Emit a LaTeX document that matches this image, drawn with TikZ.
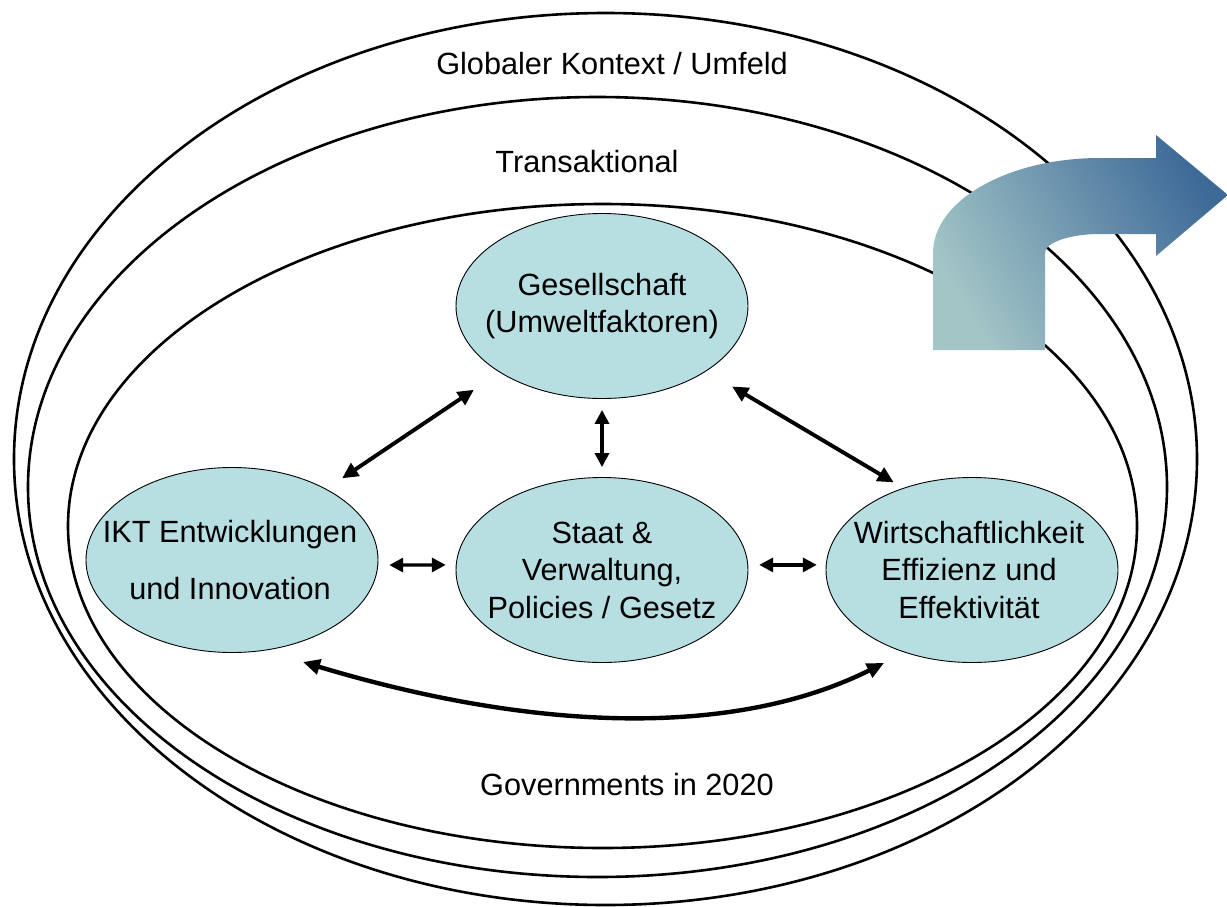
\documentclass[tikz,border=0pt]{standalone}
\usepackage{fontspec}
\setmainfont{Liberation Sans}
\usetikzlibrary{arrows.meta,shapes.geometric}
\definecolor{nodefill}{RGB}{183,223,226}
\definecolor{arrowA}{RGB}{163,197,198}
\definecolor{arrowB}{RGB}{62,106,152}
\newcommand\diafont{\fontsize{30.7pt}{37.5pt}\selectfont}
\begin{document}
\begin{tikzpicture}[x=1pt,y=-1pt,
  ring/.style={draw=black,line width=2.6pt},
  ringtext/.style={anchor=base,font=\diafont,inner sep=0pt},
  entitytext/.style={align=center,font=\diafont,inner sep=0pt},
  entity/.style={ellipse,draw=black,line width=0.9pt,fill=nodefill,
    minimum width=292pt,minimum height=185pt,inner sep=0pt},
  dbl/.style={{Triangle[length=16pt,width=15pt]}-{Triangle[length=16pt,width=15pt]},line width=3.9pt},
  dblsmall/.style={{Triangle[length=14pt,width=14pt]}-{Triangle[length=14pt,width=14pt]},line width=3.4pt},
]
\useasboundingbox (0,0) rectangle (1227,906);

% rings
\draw[ring] (605.5,459) ellipse [x radius=591.5, y radius=446];
\draw[ring] (597.5,487) ellipse [x radius=569.5, y radius=390];
\draw[ring] (602.5,526) ellipse [x radius=534.5, y radius=322];

\node[ringtext] (glob) at (612,74) {Globaler Kontext / Umfeld};
\node[ringtext] (trans) at (587,172) {Transaktional};
\node[ringtext] (gov) at (627,795) {Governments in 2020};

% entities
\node[entity,label={[entitytext]center:{Gesellschaft\\(Umweltfaktoren)}}] (ges) at (602,306) {};
\node[entity,label={[entitytext,xshift=-2pt]center:{IKT Entwicklungen\\[19pt]und Innovation}}] (ikt) at (232,560) {};
\node[entity,label={[entitytext]center:{Staat \&\\Verwaltung,\\Policies / Gesetz}}] (staat) at (602,570) {};
\node[entity,label={[entitytext,xshift=-3pt]center:{Wirtschaftlichkeit\\Effizienz und\\Effektivit\"at}}] (wirt) at (972,570) {};

% connectors
\draw[dbl,shorten <=19pt,shorten >=31pt] (ikt.37.6) -- (ges.213);
\draw[dblsmall,shorten <=11pt,shorten >=10pt] (ges.south) -- (staat.north);
\draw[dbl,shorten <=30pt,shorten >=11pt] (ges.-32.4) -- (wirt.130);
\draw[dblsmall,shorten <=11pt,shorten >=10pt] (ikt.-2) -- (staat.178);
\draw[dblsmall,shorten <=11pt,shorten >=9pt] (staat.2) -- (wirt.178);
\coordinate (cl) at ([shift={(71,102)}]ikt.center);
\coordinate (cr) at ([shift={(-88,93)}]wirt.center);
\draw[{Triangle[length=17pt,width=15pt]}-{Triangle[length=17pt,width=15pt]},line width=4.4pt]
  (cl) .. controls +(243,73) and +(-144,72) .. (cr);

% bent arrow
\path[left color=arrowA,right color=arrowB,shading angle=120]
  (933,350) -- (933,253) .. controls (933,200.6) and (1007.8,158) .. (1100,158)
  -- (1156,158) -- (1156,135) -- (1228,195) -- (1156,256) -- (1156,234)
  -- (1100,234) .. controls (1069.6,234) and (1045,242.5) .. (1045,253)
  -- (1045,350) -- cycle;
\end{tikzpicture}
\end{document}
